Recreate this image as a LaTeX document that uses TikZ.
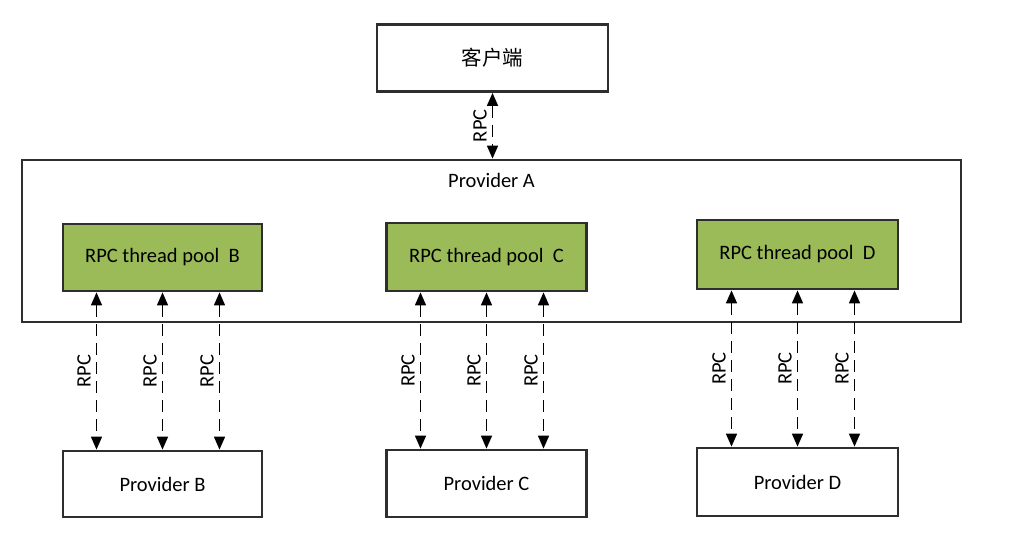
\documentclass[tikz,border=0pt]{standalone}
\usepackage{fontspec}
\setmainfont{Carlito}
\newfontfamily\cjk{Noto Sans CJK SC}
\usetikzlibrary{arrows.meta}
\definecolor{poolgreen}{HTML}{9BBB59}
\definecolor{edgegray}{HTML}{2E2E2E}
\tikzset{
  box/.style={draw=edgegray, line width=2.8pt, fill=white, inner sep=0pt},
  poolbox/.style={box, fill=poolgreen},
  rpc/.style={line width=1.6pt, dash pattern=on 12pt off 7pt,
    {Triangle[length=13pt,width=11pt]}-{Triangle[length=13pt,width=11pt]}},
  rpclabel/.style={rotate=90, anchor=south, inner sep=5pt},
}
\begin{document}
\begin{tikzpicture}[x=1pt,y=-1pt,font=\fontsize{20.5}{24}\selectfont]
\useasboundingbox[fill=white] (0,0) rectangle (1022,542);
% client
\node[box, minimum width=231pt, minimum height=67pt] (client) at (492.5,58) {\cjk 客户端};
% provider A
\node[box, minimum width=939pt, minimum height=162pt] (provA) at (491.5,241) {};
\node (provAlabel) at ([yshift=-22pt]provA.north) {Provider A};
% pools
\node[poolbox, minimum width=199pt, minimum height=67pt] (poolB) at (162.5,257.5) {RPC thread pool\ \ B};
\node[poolbox, minimum width=200pt, minimum height=68pt] (poolC) at (486.5,257) {RPC thread pool\ \ C};
\node[poolbox, minimum width=201pt, minimum height=69pt] (poolD) at (797.5,254.5) {RPC thread pool\ \ D};
% providers
\node[box, minimum width=199pt, minimum height=66pt] (provB) at (162.5,484) {Provider B};
\node[box, minimum width=200pt, minimum height=67pt] (provC) at (486.5,483.5) {Provider C};
\node[box, minimum width=201pt, minimum height=68pt] (provD) at (797.5,482) {Provider D};
% client arrow
\draw[rpc] (client.south) -- (client.south |- provA.north) node[midway, rpclabel] {RPC};
% pool arrows
\foreach \p/\q in {poolB/provB, poolC/provC, poolD/provD}{
  \foreach \dx in {-66,0,57}{
    \draw[rpc] ([xshift=\dx pt]\p.south) -- ([xshift=\dx pt]\q.north) node[midway, rpclabel] {RPC};
  }
}
\end{tikzpicture}
\end{document}
